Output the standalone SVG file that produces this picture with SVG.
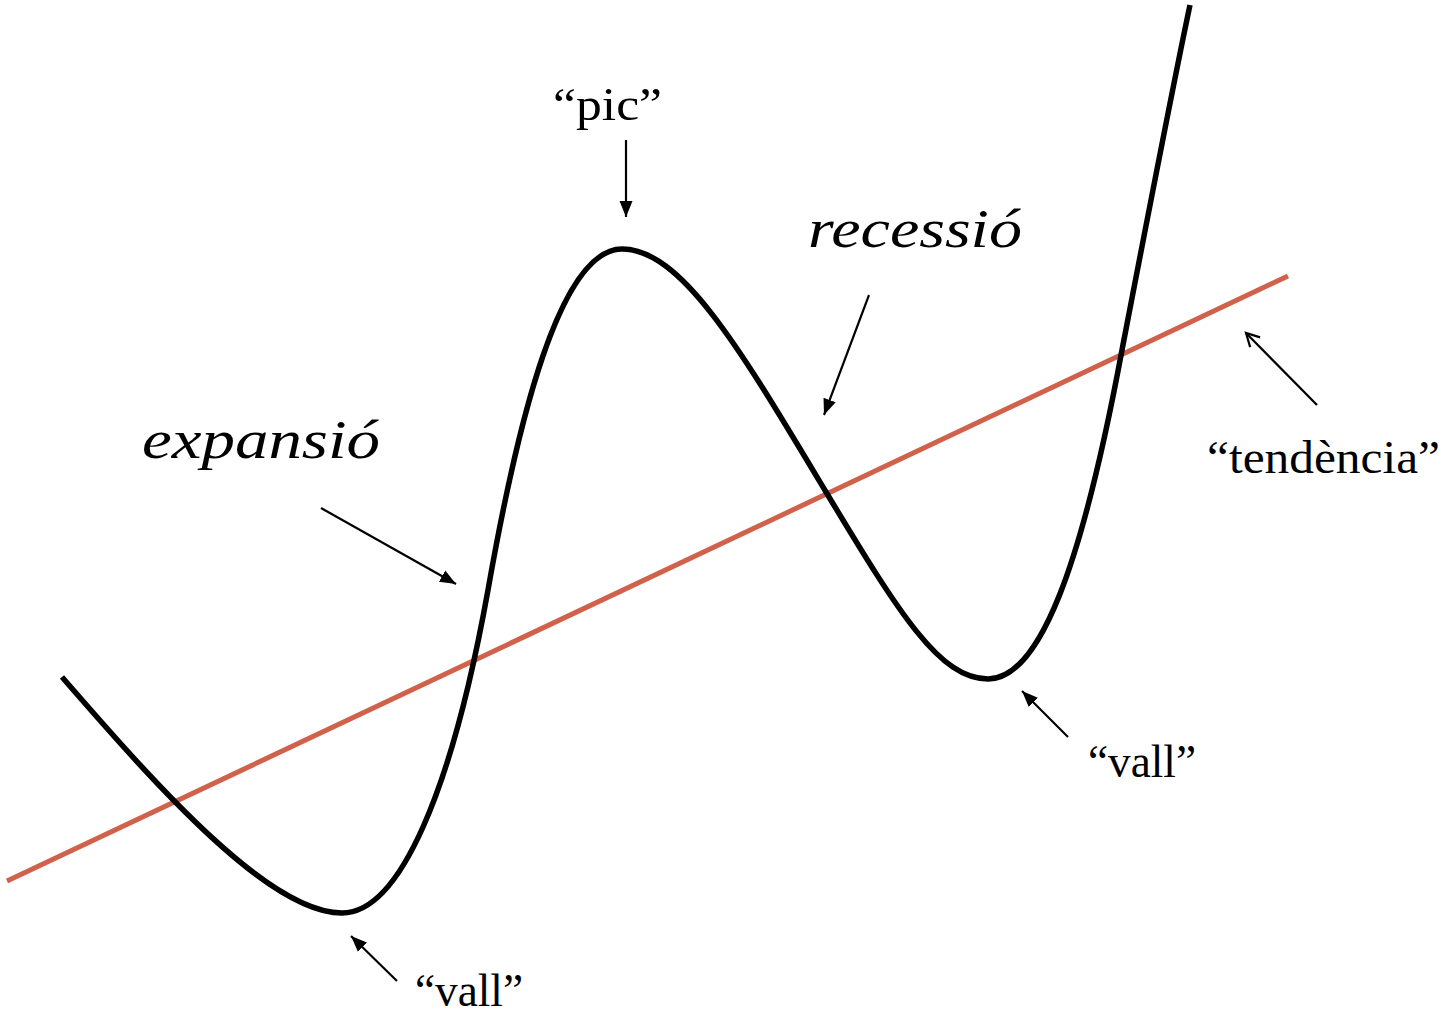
<svg xmlns="http://www.w3.org/2000/svg" width="1441" height="1016" viewBox="0 0 1441 1016">
<style>
.lbl{font-family:"Liberation Serif","DejaVu Serif",serif;font-size:46px;fill:#000}
.it{font-family:"Liberation Serif","DejaVu Serif",serif;font-style:italic;font-size:54px;fill:#000}
.arr{stroke:#000;stroke-width:2.2;fill:none}
</style>
<defs>
<marker id="tri" markerUnits="userSpaceOnUse" markerWidth="18" markerHeight="14" refX="16" refY="7" orient="auto">
<path d="M0,0.5 L16,7 L0,13.5 Z" fill="#000"/>
</marker>
<marker id="open" markerUnits="userSpaceOnUse" markerWidth="18" markerHeight="16" refX="15" refY="8" orient="auto">
<path d="M2,1 L15,8 L2,15" fill="none" stroke="#000" stroke-width="2.2"/>
</marker>
</defs>
<g id="trend-line">
<line x1="7" y1="881" x2="1288" y2="276" stroke="#D0624B" stroke-width="5"/>
</g>
<g id="cycle-curve">
<path d="M62,677 C160,790 270,913 342,913 C400,913 452,790 488,590 C518,420 560,249 622,249 C682,249 742,352 826,492 C900,615 940,679 988,679 C1040,679 1082,565 1122,350 C1148,215 1172,90 1190,5" fill="none" stroke="#000" stroke-width="5.5"/>
</g>
<g id="connectors">
<line class="arr" x1="626" y1="140" x2="626" y2="217" marker-end="url(#tri)"/>
<line class="arr" x1="869" y1="295" x2="824" y2="415" marker-end="url(#tri)"/>
<line class="arr" x1="321" y1="508" x2="456" y2="584" marker-end="url(#tri)"/>
<line class="arr" x1="1317" y1="405" x2="1246" y2="333" marker-end="url(#open)"/>
<line class="arr" x1="1068" y1="737" x2="1022" y2="691" marker-end="url(#tri)"/>
<line class="arr" x1="397" y1="981" x2="351" y2="936" marker-end="url(#tri)"/>
</g>
<g id="label-pic"><text class="lbl" x="553" y="120" textLength="109" lengthAdjust="spacingAndGlyphs">“pic”</text></g>
<g id="label-recessio"><text class="it" x="808" y="247" textLength="214" lengthAdjust="spacingAndGlyphs">recessió</text></g>
<g id="label-expansio"><text class="it" x="142" y="458" textLength="238" lengthAdjust="spacingAndGlyphs">expansió</text></g>
<g id="label-tendencia"><text class="lbl" x="1207" y="473" textLength="233" lengthAdjust="spacingAndGlyphs">“tendència”</text></g>
<g id="label-vall-right"><text class="lbl" x="1088" y="777" textLength="108" lengthAdjust="spacingAndGlyphs">“vall”</text></g>
<g id="label-vall-bottom"><text class="lbl" x="415" y="1006" textLength="108" lengthAdjust="spacingAndGlyphs">“vall”</text></g>
</svg>
